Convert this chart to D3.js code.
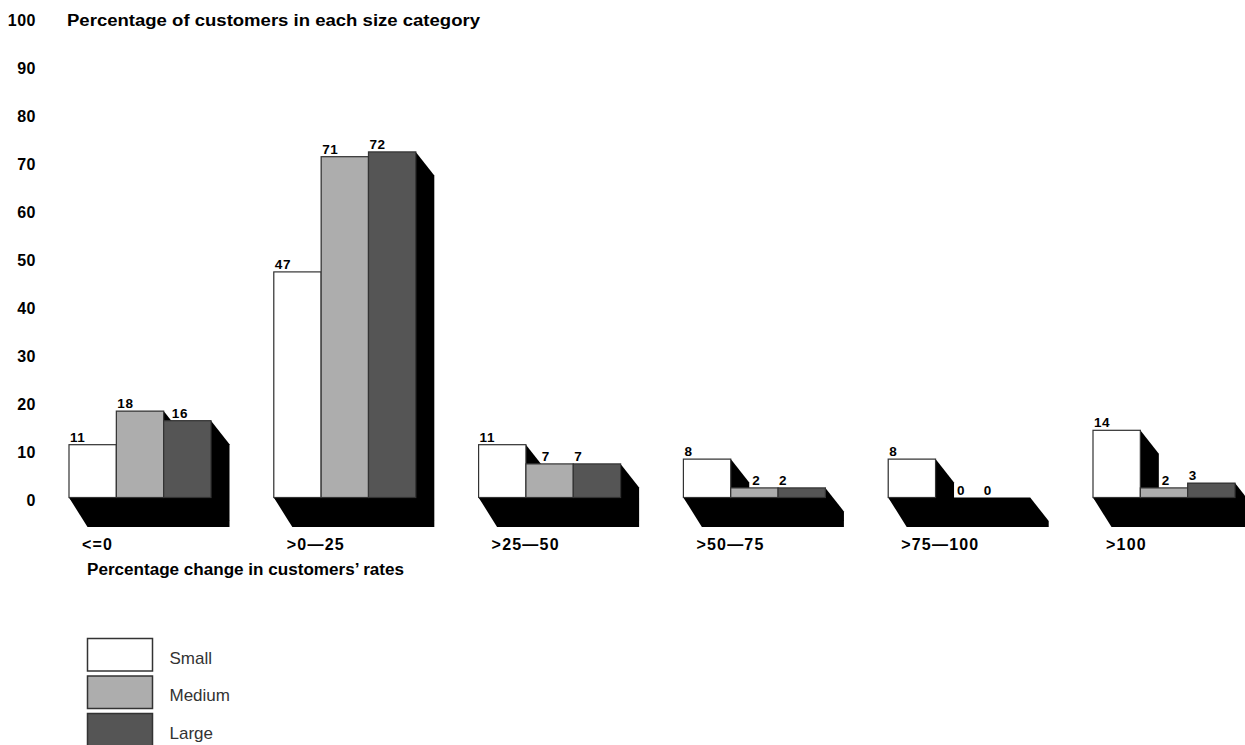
<!DOCTYPE html>
<html>
<head>
<meta charset="utf-8">
<script src="https://cdn.jsdelivr.net/npm/d3@7"></script>
<style>
  html, body { margin: 0; padding: 0; background: #fff; }
  svg { display: block; font-family: "Liberation Sans", Arial, Helvetica, sans-serif; }
</style>
</head>
<body>
<svg id="chart" width="1245" height="745"></svg>
<script>
// Rate-change buckets and the share of customers in each size class
const categories = ["<=0", ">0\u201425", ">25\u201450", ">50\u201475", ">75\u2014100", ">100"];
const seriesNames = ["Small", "Medium", "Large"];
const small  = [11, 47, 11, 8, 8, 14];
const medium = [18, 71, 7, 2, 0, 2];
const large  = [16, 72, 7, 2, 0, 3];
const yTicks = [0, 10, 20, 30, 40, 50, 60, 70, 80, 90, 100];
const seriesColors = ["#ffffff", "#adadad", "#555555"];

const series = [small, medium, large];

const svg = d3.select("#chart");

// Scales
const y = d3.scaleLinear().domain([0, 100]).range([497.5, 17.5]);
const x = d3.scaleBand().domain(categories)
  .range([69, 69 + 204.8 * (categories.length - 0.3066)])
  .paddingInner(0.3066).paddingOuter(0);
const xs = d3.scaleBand().domain(seriesNames).range([0, x.bandwidth()]);

// Extrusion offsets of the pseudo-3D shadow
const DX = 18.5, DY = 23.5, FLOOR = 29.5;
const base = y(0);

// Y tick labels (no axis line)
svg.append("g").selectAll("text").data(yTicks).join("text")
  .attr("x", 36).attr("y", d => y(d) + 8)
  .attr("text-anchor", "end")
  .attr("font-size", 16).attr("font-weight", "bold").attr("fill", "#000")
  .attr("letter-spacing", 0.5)
  .text(d => d);

svg.append("text")
  .attr("x", 67).attr("y", 26)
  .attr("font-size", 16).attr("font-weight", "bold")
  .attr("textLength", 413).attr("lengthAdjust", "spacingAndGlyphs")
  .text("Percentage of customers in each size category");

const groups = svg.append("g").selectAll("g").data(categories).join("g")
  .attr("transform", c => `translate(${x(c)},0)`);

groups.each(function (c, ci) {
  const g = d3.select(this);
  const w = xs.bandwidth();
  const vals = series.map(s => s[ci]);

  // floor slab under the group
  const x0 = 0, x1 = x.bandwidth();
  g.append("path")
    .attr("d", `M${x0},${base} L${x1},${base} L${x1 + DX},${base + DY} L${x1 + DX},${base + FLOOR} L${x0 + DX},${base + FLOOR} Z`)
    .attr("fill", "#000");

  // shadow swept from each bar
  vals.forEach((v, i) => {
    if (v <= 0) return;
    const l = xs(seriesNames[i]), r = l + w, t = y(v);
    g.append("path")
      .attr("d", `M${l},${t} L${r},${t} L${r + DX},${t + DY} L${r + DX},${base + DY} L${l + DX},${base + DY} L${l},${base} Z`)
      .attr("fill", "#000");
  });

  // bars
  vals.forEach((v, i) => {
    if (v <= 0) return;
    g.append("rect")
      .attr("x", xs(seriesNames[i])).attr("y", y(v))
      .attr("width", w).attr("height", base - y(v))
      .attr("fill", seriesColors[i])
      .attr("stroke", "#333").attr("stroke-width", 1.2);
  });

  // value labels, nudged clear of a taller neighbour's shadow
  vals.forEach((v, i) => {
    const l = xs(seriesNames[i]), t = y(v);
    const labelBottom = t - 3;
    let off = 1;
    if (i > 0 && vals[i - 1] > v) {
      const prevTop = y(vals[i - 1]);
      off = Math.min(DX, DX * (labelBottom - prevTop) / DY) + 3;
    }
    g.append("text")
      .attr("x", l + off).attr("y", labelBottom)
      .attr("font-size", 13.5).attr("font-weight", "bold")
      .attr("letter-spacing", 0.6)
      .text(v);
  });

  // category label
  g.append("text")
    .attr("x", 13).attr("y", 550)
    .attr("font-size", 16).attr("font-weight", "bold")
    .attr("letter-spacing", 1.2)
    .text(c);
});

svg.append("text")
  .attr("x", 87).attr("y", 575)
  .attr("font-size", 16).attr("font-weight", "bold")
  .attr("textLength", 317).attr("lengthAdjust", "spacingAndGlyphs")
  .text("Percentage change in customers\u2019 rates");

// Legend
const legend = svg.append("g").selectAll("g").data(seriesNames).join("g")
  .attr("transform", (d, i) => `translate(87.5,${638.5 + i * 37.5})`);
legend.append("rect")
  .attr("width", 65).attr("height", 32.5)
  .attr("fill", (d, i) => seriesColors[i])
  .attr("stroke", "#333").attr("stroke-width", 1.5);
legend.append("text")
  .attr("x", 82).attr("y", 25)
  .attr("font-size", 17).attr("fill", "#333")
  .text(d => d);
</script>
</body>
</html>
